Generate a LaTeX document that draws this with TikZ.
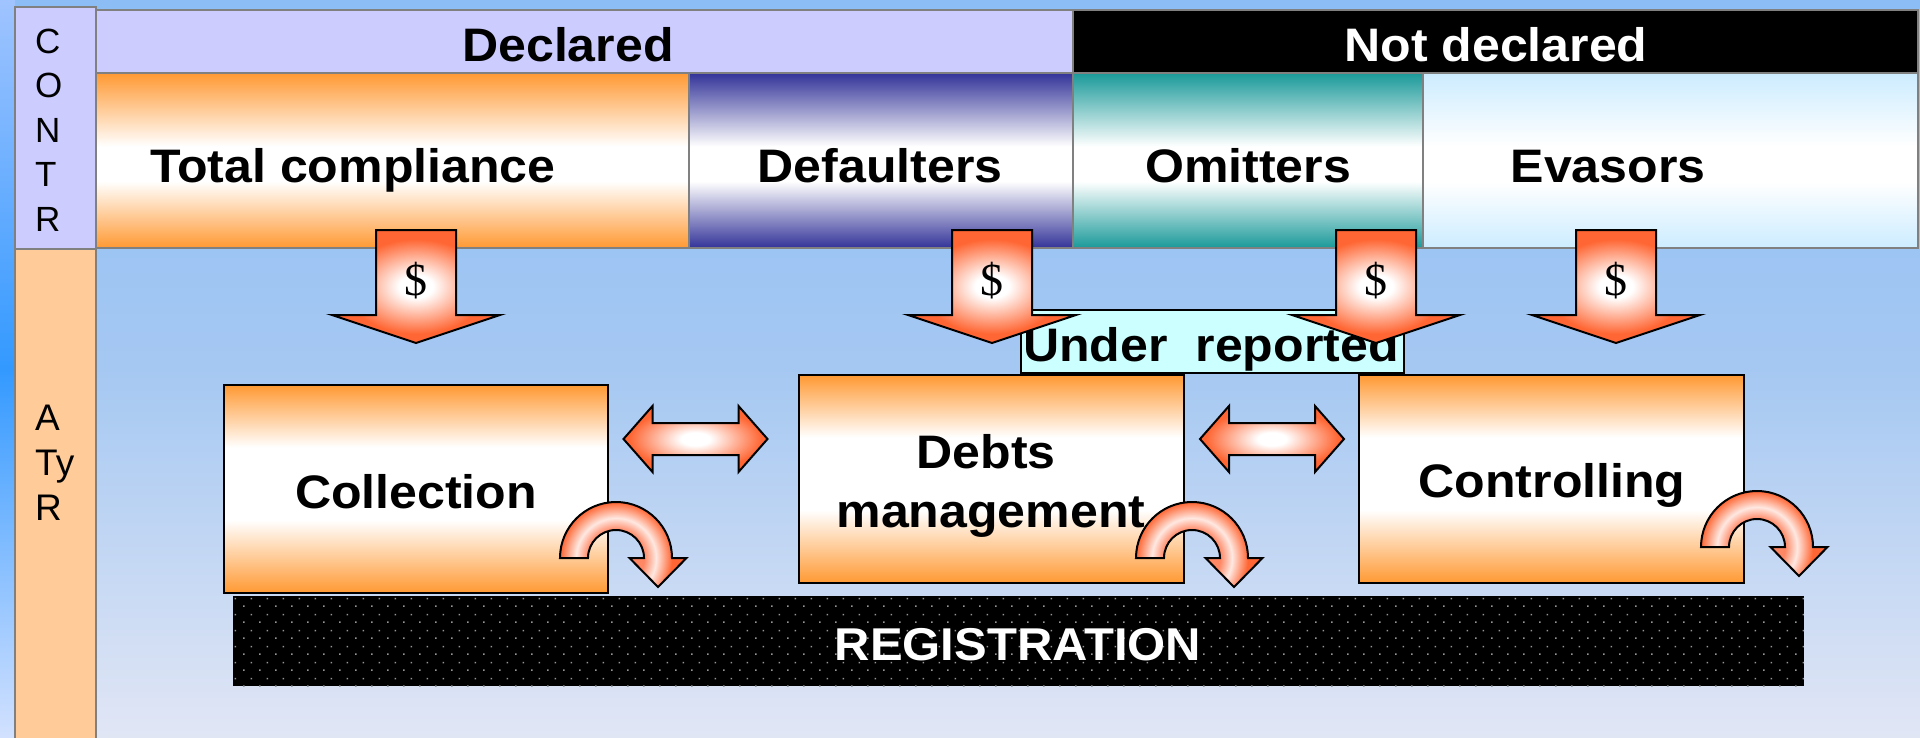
\documentclass[tikz,border=0pt]{standalone}
\usepackage{fontspec}
\setmainfont{Liberation Sans}
\newfontfamily\lblfont{Liberation Sans}[FakeStretch=1.065]
\newfontfamily\dolfont{Liberation Serif}
\usetikzlibrary{patterns}

\definecolor{bgtop}{RGB}{140,190,245}
\definecolor{bgmid}{RGB}{165,200,242}
\definecolor{bgbot}{RGB}{225,230,245}
\definecolor{striptop}{RGB}{160,196,255}
\definecolor{stripmid}{RGB}{51,153,255}
\definecolor{stripbot}{RGB}{210,225,255}
\definecolor{lav}{RGB}{204,204,255}
\definecolor{peach}{RGB}{255,204,153}
\definecolor{boxorange}{RGB}{255,153,51}
\definecolor{navyband}{RGB}{51,51,153}
\definecolor{tealband}{RGB}{26,153,153}
\definecolor{icyband}{RGB}{204,236,255}
\definecolor{cyanlight}{RGB}{204,255,255}
\definecolor{arrorange}{RGB}{255,102,51}
\definecolor{arrlight}{RGB}{255,135,100}
\definecolor{arrpale}{RGB}{255,232,225}
\definecolor{edgegrey}{RGB}{128,128,128}
\definecolor{dotgrey}{RGB}{150,150,150}

\pgfdeclareradialshading{dglow}{\pgfpoint{0bp}{0bp}}{color(0bp)=(white); color(5bp)=(white); color(21bp)=(arrorange); color(50bp)=(arrorange)}
\pgfdeclareradialshading{hglow}{\pgfpoint{0bp}{0bp}}{color(0bp)=(white); color(5bp)=(white); color(23bp)=(arrorange); color(50bp)=(arrorange)}
\pgfdeclareradialshading{uring}{\pgfpoint{0bp}{0bp}}{color(0bp)=(arrlight); color(8.75bp)=(arrlight); color(12.5bp)=(arrpale); color(17.5bp)=(arrorange); color(50bp)=(arrorange)}

\newcommand{\BandShading}[4]{\pgfdeclareverticalshading{#1}{100bp}{color(0bp)=(#2); color(25bp)=(#2); color(#3)=(white); color(#4)=(white); color(75bp)=(#2); color(100bp)=(#2)}}
\BandShading{bandorange}{boxorange}{44bp}{54bp}
\BandShading{bandnavy}{navyband}{44bp}{54bp}
\BandShading{bandteal}{tealband}{44bp}{54bp}
\BandShading{bandicy}{icyband}{44bp}{54bp}
\BandShading{procorange}{boxorange}{42.5bp}{60bp}

\pgfdeclarepatternformonly{regdots}{\pgfqpoint{0pt}{0pt}}{\pgfqpoint{16pt}{16pt}}{\pgfqpoint{16pt}{16pt}}{%
  \pgfpathrectangle{\pgfqpoint{3.3pt}{3.3pt}}{\pgfqpoint{1.5pt}{1.5pt}}%
  \pgfpathrectangle{\pgfqpoint{11.3pt}{11.3pt}}{\pgfqpoint{1.5pt}{1.5pt}}%
  \pgfusepath{fill}}

\newcommand{\DollarArrow}[2]{%
  \path[downarr] (#2-40,230) -- (#2+40,230) -- (#2+40,315) -- (#2+84,315) -- (#2,343) -- (#2-84,315) -- (#2-40,315) -- cycle;
  \node[dollar] (#1) at (#2,295) {\$};}
\newcommand{\SideArrow}[1]{%
  \path[sidearr] (#1-72,439) -- (#1-43,406) -- (#1-43,423) -- (#1+43,423) -- (#1+43,406) -- (#1+72,439) -- (#1+43,472) -- (#1+43,455) -- (#1-43,455) -- (#1-43,472) -- cycle;}
\newcommand{\UTurn}[2]{%
  \path[uarr={#1,#2}] (#1-56,#2) arc[start angle=180, end angle=360, radius=56] -- (#1+70.5,#2) -- (#1+42,#2+29) -- (#1+13.5,#2) -- (#1+28,#2) arc[start angle=360, end angle=180, radius=28] -- cycle;}

\begin{document}
\begin{tikzpicture}[x=1pt,y=-1pt,
  cell/.style={draw=edgegrey, line width=1.5, inner sep=0, outer sep=0},
  band/.style={shade, shading=#1},
  proc/.style={draw=black, line width=2, inner sep=0, shade, shading=procorange, minimum width=385, minimum height=208},
  lbl/.style={font=\lblfont\bfseries\fontsize{47}{56}\selectfont, inner sep=0, anchor=base},
  side/.style={font=\fontsize{35}{40}\selectfont, inner sep=0, anchor=base west},
  dollar/.style={font=\dolfont\fontsize{46}{50}\selectfont, inner sep=0, anchor=base},
  downarr/.style={draw=black, line width=2, shade, shading=dglow},
  sidearr/.style={draw=black, line width=2, shade, shading=hglow},
  uarr/.style={draw=black, line width=2, path picture={\shade[shading=uring] (#1) circle[radius=80];}},
]
\useasboundingbox (0,0) rectangle (1920,737);
\shade[top color=bgtop, bottom color=bgbot, middle color=bgmid] (0,0) rectangle (1920,737);
\shade[top color=striptop, bottom color=stripbot, middle color=stripmid] (0,0) rectangle (15,737);

% side columns
\node[cell, fill=lav, minimum width=81, minimum height=242] (contr) at (55.5,128) {};
\node[cell, fill=peach, minimum width=81, minimum height=500] (atyr) at (55.5,499) {};
\node[side] (contr-c) at (35,53) {C};
\node[side] (contr-o) at (35,97.5) {O};
\node[side] (contr-n) at (35,142) {N};
\node[side] (contr-t) at (35,186) {T};
\node[side] (contr-r) at (35,231) {R};
\node[side, font=\fontsize{37}{40}\selectfont] (atyr-a) at (35,430) {A};
\node[side, font=\fontsize{37}{40}\selectfont] (atyr-ty) at (35,475) {Ty};
\node[side, font=\fontsize{37}{40}\selectfont] (atyr-r) at (35,520) {R};

% headers
\node[cell, fill=lav, minimum width=977, minimum height=63] (declared) at (584.5,41.5) {};
\node[cell, fill=black, minimum width=845, minimum height=63] (notdeclared) at (1495.5,41.5) {};
\node[lbl] (declared-t) at (568,61) {Declared};
\node[lbl, text=white] (notdeclared-t) at (1496,61) {Not declared};

% categories
\node[cell, band=bandorange, minimum width=593, minimum height=175] (total) at (392.5,160.5) {};
\node[cell, band=bandnavy, minimum width=384, minimum height=175] (defaulters) at (881,160.5) {};
\node[cell, band=bandteal, minimum width=350, minimum height=175] (omitters) at (1248,160.5) {};
\node[cell, band=bandicy, minimum width=495, minimum height=175] (evasors) at (1670.5,160.5) {};
\node[lbl] (total-t) at (353,182) {Total compliance};
\node[lbl] (defaulters-t) at (880,182) {Defaulters};
\node[lbl] (omitters-t) at (1248,182) {Omitters};
\node[lbl] (evasors-t) at (1608,182) {Evasors};

% under reported
\node[draw=black, line width=2, fill=cyanlight, minimum width=383, minimum height=63, inner sep=0] (under) at (1212.5,341.5) {};
\node[lbl, anchor=base west] (under-t) at (1023,361) {Under~~reported};

% processes
\node[proc, minimum width=384] (collection) at (416,489) {};
\node[proc] (debts) at (991.5,479) {};
\node[proc] (controlling) at (1551.5,479) {};
\node[lbl] (collection-t) at (416,508) {Collection};
\node[lbl] (debts-t1) at (986,468) {Debts};
\node[lbl] (debts-t2) at (991,527) {management};
\node[lbl] (controlling-t) at (1552,497) {Controlling};

% registration
\node[preaction={fill=black}, pattern=regdots, pattern color=dotgrey, minimum width=1571, minimum height=90, inner sep=0] (reg) at (1018.5,641) {};
\node[lbl, text=white, font=\lblfont\bfseries\fontsize{46}{52}\selectfont] (reg-t) at (1018,660) {REGISTRATION};

% arrows
\SideArrow{695.5}
\SideArrow{1272}
\UTurn{616}{558}
\UTurn{1192}{558}
\UTurn{1757}{547}
\DollarArrow{d1}{416}
\DollarArrow{d2}{992}
\DollarArrow{d3}{1376}
\DollarArrow{d4}{1616}
\end{tikzpicture}
\end{document}
